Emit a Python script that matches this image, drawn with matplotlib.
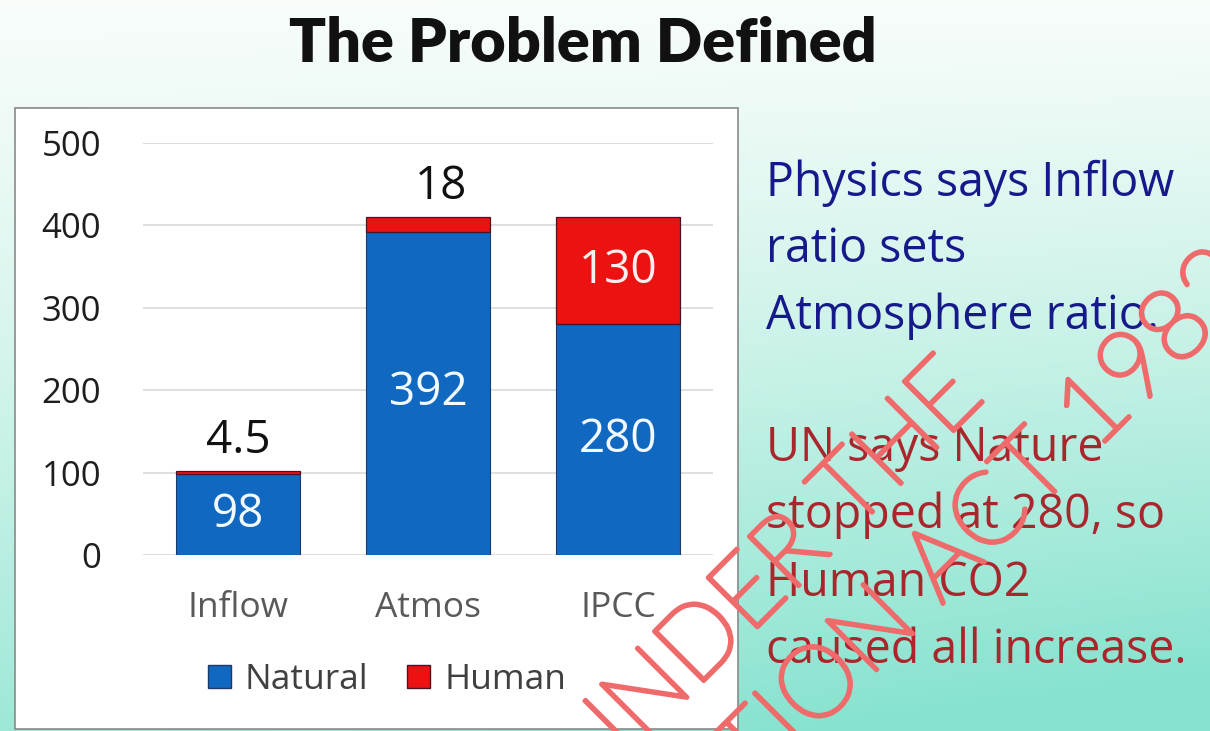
import matplotlib.pyplot as plt
import matplotlib.patheffects as pe
import numpy as np
from matplotlib.patches import Rectangle, Patch

# Data
categories = ['Inflow', 'Atmos', 'IPCC']
natural = [98, 392, 280]
human = [4.5, 18, 130]
y_ticks = [0, 100, 200, 300, 400, 500]

blue_lines = ['Physics says Inflow', 'ratio sets', 'Atmosphere ratio.']
red_lines = ['UN says Nature', 'stopped at 280, so', 'Human CO2', 'caused all increase.']

nat_color = '#1068c0'
hum_color = '#ec1212'
W, H = 1210, 731

plt.rcParams['font.family'] = ['Open Sans', 'DejaVu Sans']

fig = plt.figure(figsize=(W / 100, H / 100), dpi=100)

# background gradient (white top-left -> aquamarine bottom-right)
bg = fig.add_axes([0, 0, 1, 1], zorder=-10)
yy, xx = np.mgrid[0:1:200j, 0:1:300j]
t = np.clip(0.8 * yy ** 1.3 + 0.3 * xx * yy, 0, 1)
c0 = np.array([0.97, 0.99, 0.98])
c1 = np.array([0.53, 0.89, 0.81])
img = c0 + (c1 - c0) * t[..., None]
bg.imshow(img, extent=[0, 1, 0, 1], aspect='auto', origin='upper')
bg.axis('off')

# white chart panel
fig.patches.append(Rectangle((15 / W, 1 - 729 / H), (738 - 15) / W, (729 - 108) / H,
                             transform=fig.transFigure, facecolor='white',
                             edgecolor='#8a8a8a', linewidth=1.2, zorder=-5))

fig.text(583 / W, 1 - 44 / H, 'The Problem Defined', ha='center', va='center',
         fontsize=44, fontweight='heavy', color='#111111', family=['Lato', 'DejaVu Sans'])

ax = fig.add_axes([143 / W, 1 - 555 / H, (713 - 143) / W, (555 - 143) / H])
ax.set_facecolor('none')
x = np.arange(len(categories))
width = 0.655
ax.bar(x, natural, width, color=nat_color, edgecolor='#1d3a6a', linewidth=0.8,
       label='Natural', zorder=3)
ax.bar(x, human, width, bottom=natural, color=hum_color, edgecolor='#4a1428',
       linewidth=0.9, label='Human', zorder=3)

ax.set_xlim(-0.5, 2.5)
ax.set_ylim(0, 500)
ax.set_yticks(y_ticks)
ax.grid(axis='y', color='#d9d9d9', linewidth=1.2, zorder=0)
for s in ax.spines.values():
    s.set_visible(False)
ax.tick_params(axis='y', length=0, pad=30, labelsize=25, labelcolor='#1e1e1e')
ax.set_xticks(x)
ax.set_xticklabels(categories)
ax.tick_params(axis='x', length=0, pad=26, labelsize=25.5, labelcolor='#595959')

# value labels
for i in range(len(categories)):
    ax.text(x[i], natural[i] / 2, f'{natural[i]:g}', ha='center', va='center',
            fontsize=33, color='#f2faff', zorder=4)
    top = natural[i] + human[i]
    if human[i] > 60:
        ax.text(x[i], natural[i] + human[i] / 2, f'{human[i]:g}', ha='center', va='center',
                fontsize=33, color='#fff0f0', zorder=4)
    else:
        dx = 0.07 if i == 1 else 0
        ax.annotate(f'{human[i]:g}', (x[i] + dx, top), xytext=(0, 5),
                    textcoords='offset points', ha='center', va='bottom',
                    fontsize=33, color='#111111', zorder=4)

fig.legend(handles=[Patch(facecolor=nat_color, edgecolor='#1d3a6a', label='Natural'),
                    Patch(facecolor=hum_color, edgecolor='#4a1428', label='Human')],
           loc='center', bbox_to_anchor=(387 / W, 1 - 680 / H), ncol=2, frameon=False,
           fontsize=25.5, handlelength=0.65, handleheight=0.65, handletextpad=0.4,
           columnspacing=1.1, labelcolor='#404040')

# side text
for j, line in enumerate(blue_lines):
    fig.text(766 / W, 1 - (183 + 66.5 * j) / H, line, ha='left', va='center',
             fontsize=33.5, color='#16198a')
for j, line in enumerate(red_lines):
    fig.text(766 / W, 1 - (448 + 67.5 * j) / H, line, ha='left', va='center',
             fontsize=33.5, color='#aa262d')

# watermark fragments (thin single-stroke lettering)
wm = dict(rotation=45, rotation_mode='anchor', ha='center', va='center',
          fontsize=72, fontweight='light', color='#ef6b6b', zorder=20,
          family=['Lato', 'DejaVu Sans'],
          path_effects=[pe.withStroke(linewidth=3.2, foreground='#ef6b6b')])
fig.text(770 / W, 1 - 576 / H, 'UNDER THE', **wm)
fig.text(988 / W, 1 - 520 / H, 'TION ACT 1982', **wm)

plt.savefig('out.png', dpi=100)
